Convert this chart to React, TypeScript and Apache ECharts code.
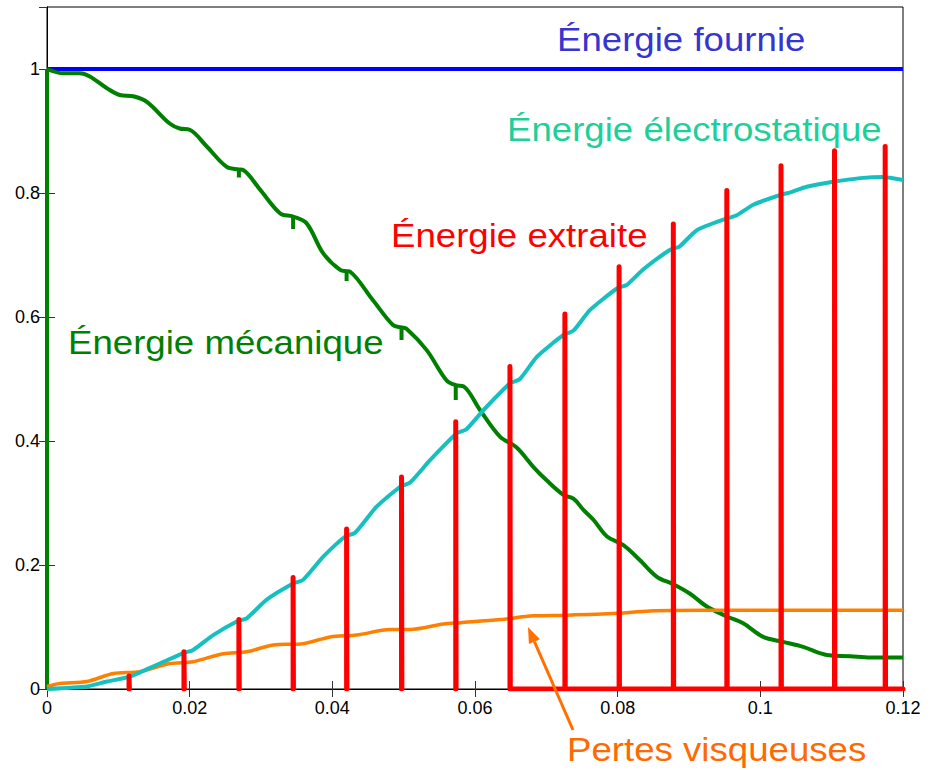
import React, { useEffect, useRef } from "react";
import * as echarts from "echarts";

// ---- data (time in s, energy normalised) ----
const xTicks = [0, 0.02, 0.04, 0.06, 0.08, 0.1, 0.12];
const yTicks = [0, 0.2, 0.4, 0.6, 0.8, 1];

const suppliedEnergy: [number, number][] = [
  [0, 1],
  [0.12, 1],
];

const mechanicalStart: [number, number][] = [
  [0, 0],
  [0, 1.0],
];

const mechanicalEnergy: [number, number][] = [
  [0, 1.0], [0.0023, 0.993], [0.0046, 0.993], [0.006, 0.988], [0.0084, 0.969],
  [0.0102, 0.958], [0.0121, 0.956], [0.014, 0.947], [0.0172, 0.912], [0.0186, 0.904],
  [0.02, 0.902], [0.0224, 0.875], [0.0252, 0.842], [0.0269, 0.838],
  [0.0275, 0.837], [0.0299, 0.805], [0.0327, 0.767], [0.0345, 0.762],
  [0.0364, 0.751], [0.0387, 0.703], [0.0411, 0.676], [0.042, 0.674],
  [0.0425, 0.673], [0.0457, 0.627], [0.0485, 0.587], [0.0497, 0.583],
  [0.0504, 0.581], [0.0532, 0.547], [0.056, 0.498], [0.0573, 0.49],
  [0.0584, 0.488], [0.0607, 0.45], [0.0635, 0.407], [0.0658, 0.39], [0.0682, 0.358],
  [0.07, 0.337], [0.0724, 0.313], [0.0738, 0.307], [0.0752, 0.289], [0.0766, 0.273],
  [0.0785, 0.246], [0.0808, 0.232], [0.0831, 0.208], [0.0855, 0.181], [0.0878, 0.169],
  [0.0901, 0.154], [0.0925, 0.133], [0.0953, 0.117], [0.0976, 0.106], [0.1004, 0.084],
  [0.1032, 0.076], [0.106, 0.068], [0.1093, 0.055], [0.1126, 0.053], [0.1154, 0.051],
  [0.12, 0.051],
];

// small downward notches of the mechanical energy at extraction instants
const notchTimes = [0.0269, 0.0345, 0.042, 0.0497, 0.0573];
const notchTops = [0.838, 0.762, 0.674, 0.583, 0.49];
const notchBottoms = [0.825, 0.742, 0.658, 0.563, 0.466];

const electrostaticEnergy: [number, number][] = [
  [0, 0], [0.0056, 0.004], [0.0084, 0.012], [0.0116, 0.02], [0.0154, 0.039],
  [0.0191, 0.058], [0.0205, 0.063], [0.0233, 0.087], [0.0266, 0.109], [0.028, 0.114],
  [0.0308, 0.144], [0.0345, 0.17], [0.0359, 0.176], [0.0387, 0.213], [0.0418, 0.246],
  [0.0432, 0.252], [0.0462, 0.294], [0.0495, 0.326], [0.0509, 0.333], [0.0537, 0.369],
  [0.0574, 0.412], [0.0588, 0.419], [0.0612, 0.45], [0.0649, 0.493], [0.0663, 0.5],
  [0.0687, 0.536], [0.0724, 0.571], [0.0738, 0.578], [0.0761, 0.611], [0.0799, 0.646],
  [0.0813, 0.652], [0.0836, 0.677], [0.0873, 0.708], [0.0887, 0.714], [0.0911, 0.74],
  [0.0953, 0.759], [0.0967, 0.764], [0.099, 0.781], [0.1028, 0.797], [0.1042, 0.801],
  [0.1065, 0.81], [0.1102, 0.818], [0.114, 0.824], [0.1172, 0.826], [0.12, 0.821],
];

const viscousLosses: [number, number][] = [
  [0, 0.004], [0.0018, 0.009], [0.0056, 0.012], [0.0093, 0.025], [0.013, 0.028],
  [0.0172, 0.041], [0.0205, 0.044], [0.0247, 0.057], [0.028, 0.06], [0.0317, 0.071],
  [0.0359, 0.073], [0.0397, 0.084], [0.0434, 0.087], [0.0481, 0.096], [0.0509, 0.096],
  [0.0556, 0.105], [0.0579, 0.107], [0.0635, 0.112], [0.0682, 0.118], [0.0729, 0.119],
  [0.0799, 0.122], [0.0845, 0.126], [0.092, 0.127], [0.12, 0.127],
];

const extractionTimes = [
  0.0115, 0.0192, 0.0269, 0.0345, 0.042, 0.0497, 0.0573, 0.0649, 0.0726, 0.0802,
  0.0878, 0.0953, 0.1029, 0.1104, 0.1175,
];
const extractionPeaks = [
  0.021, 0.06, 0.112, 0.18, 0.258, 0.342, 0.431, 0.52, 0.605, 0.681, 0.75, 0.804,
  0.844, 0.868, 0.875,
];
const extractionBaselineStart = 0.0649;
const xEnd = 0.12;

function buildExtracted() {
  const out: any[] = [];
  extractionTimes.forEach((t, i) => {
    const p = extractionPeaks[i];
    if (t < extractionBaselineStart) {
      out.push([t, 0], [t, p], [t + 0.00005, 0], [t + 0.0001, null]);
    } else {
      out.push([t, 0], [t, p], [t + 0.00005, 0]);
    }
  });
  out.push([xEnd, 0]);
  return out;
}

function buildNotches() {
  const out: any[] = [];
  notchTimes.forEach((t, i) => {
    out.push([t, notchTops[i]], [t, notchBottoms[i]], [t + 0.00001, null]);
  });
  return out;
}

const FONT = "'Liberation Sans', Arial, Helvetica, sans-serif";

export default function App() {
  const ref = useRef<HTMLDivElement>(null);
  useEffect(() => {
    if (!ref.current) return;
    const chart = echarts.init(ref.current, undefined, { renderer: "svg" });
    const bigFont = `33px ${FONT}`;
    const sx = 1.11;
    const label = (text: string, x: number, y: number, fill: string) => ({
      type: "text",
      x,
      y,
      scaleX: sx,
      z: 100,
      style: { text, x: 0, y: 0, fill, font: bigFont, verticalAlign: "bottom", align: "left" },
    });
    const tip = [528, 627];
    const tail = [573, 730];
    const dx = tip[0] - tail[0];
    const dy = tip[1] - tail[1];
    const len = Math.hypot(dx, dy);
    const ux = dx / len, uy = dy / len;
    const hl = 16, hw = 6;
    const bx = tip[0] - ux * hl, by = tip[1] - uy * hl;
    const px = -uy, py = ux;
    const arrowColor = "#ff7000";

    const axisCommon = {
      type: "value",
      axisLine: { show: true, lineStyle: { color: "#000", width: 1 } },
      axisTick: { show: true, inside: true, length: 8, lineStyle: { color: "#333", width: 1 } },
      splitLine: { show: false },
    };
    const green = "#008000";

    chart.setOption({
      animation: false,
      backgroundColor: "#fff",
      grid: { left: 47, right: 31, top: 7, bottom: 81, show: true, borderColor: "#000", borderWidth: 1 },
      xAxis: [
        {
          ...axisCommon,
          min: xTicks[0],
          max: xTicks[xTicks.length - 1],
          interval: xTicks[1] - xTicks[0],
          position: "bottom",
          axisLabel: { color: "#000", fontSize: 18, fontFamily: FONT, margin: 10 },
        },
        {
          ...axisCommon,
          min: xTicks[0],
          max: xTicks[xTicks.length - 1],
          interval: xTicks[1] - xTicks[0],
          position: "top",
          axisLabel: { show: false },
        },
      ],
      yAxis: [
        {
          ...axisCommon,
          min: yTicks[0],
          max: 1.1,
          interval: yTicks[1] - yTicks[0],
          position: "left",
          axisLabel: { color: "#000", fontSize: 18, fontFamily: FONT, margin: 7, showMaxLabel: false },
        },
        {
          ...axisCommon,
          min: yTicks[0],
          max: 1.1,
          interval: yTicks[1] - yTicks[0],
          position: "right",
          axisLabel: { show: false },
        },
      ],
      series: [
        {
          name: "Énergie fournie",
          type: "line",
          data: suppliedEnergy,
          showSymbol: false,
          lineStyle: { color: "#0000ff", width: 4 },
          z: 2,
        },
        {
          name: "Énergie mécanique (départ)",
          type: "line",
          data: mechanicalStart,
          showSymbol: false,
          lineStyle: { color: green, width: 4 },
          z: 3,
        },
        {
          name: "Énergie mécanique",
          type: "line",
          data: mechanicalEnergy,
          showSymbol: false,
          smooth: 0.35,
          lineStyle: { color: green, width: 4 },
          z: 3,
        },
        {
          name: "Énergie mécanique (encoches)",
          type: "line",
          data: buildNotches(),
          showSymbol: false,
          connectNulls: false,
          lineStyle: { color: green, width: 4 },
          z: 3,
        },
        {
          name: "Pertes visqueuses",
          type: "line",
          data: viscousLosses,
          showSymbol: false,
          smooth: 0.3,
          lineStyle: { color: "#ff8000", width: 3.5 },
          z: 3,
        },
        {
          name: "Énergie électrostatique",
          type: "line",
          data: electrostaticEnergy,
          showSymbol: false,
          smooth: 0.2,
          lineStyle: { color: "#17c0c0", width: 4 },
          z: 4,
        },
        {
          name: "Énergie extraite",
          type: "line",
          data: buildExtracted(),
          showSymbol: false,
          connectNulls: false,
          lineStyle: { color: "#ff0000", width: 5, cap: "round", join: "round" },
          z: 5,
        },
      ],
      graphic: [
        label("Énergie fournie", 557, 56, "#3535cf"),
        label("Énergie électrostatique", 507, 146, "#1ecf9a"),
        label("Énergie extraite", 391, 252, "#ff0000"),
        label("Énergie mécanique", 68, 359, "#008000"),
        label("Pertes visqueuses", 567, 766, "#ff6a00"),
        {
          type: "line",
          z: 100,
          shape: { x1: tail[0], y1: tail[1], x2: bx, y2: by },
          style: { stroke: arrowColor, lineWidth: 3 },
        },
        {
          type: "polygon",
          z: 100,
          shape: {
            points: [
              [tip[0], tip[1]],
              [bx + px * hw, by + py * hw],
              [bx - px * hw, by - py * hw],
            ],
          },
          style: { fill: arrowColor },
        },
      ],
    });
    return () => chart.dispose();
  }, []);
  return (
    <div
      ref={ref}
      style={{ position: "absolute", left: 0, top: 0, width: 934, height: 770, background: "#fff" }}
    />
  );
}
